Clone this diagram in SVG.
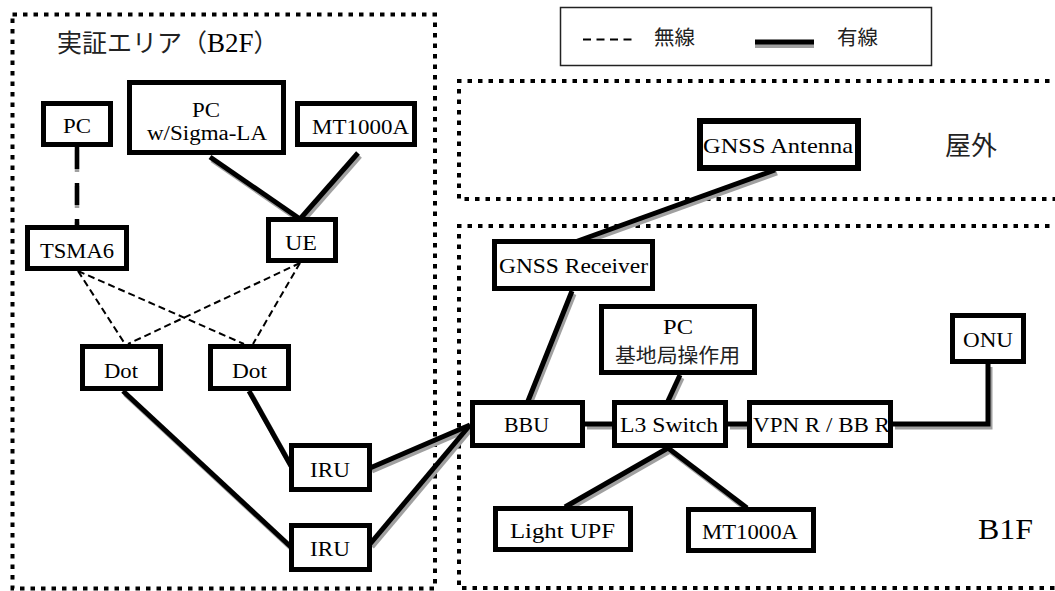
<svg xmlns="http://www.w3.org/2000/svg" width="1055" height="591" viewBox="0 0 1055 591">
  <style>
    .area { fill: none; stroke: #000; stroke-width: 4; stroke-dasharray: 4.5 6; }
    .box { fill: #fff; stroke: #000; stroke-width: 5; }
    .lbl { font-family: "Liberation Serif", serif; font-size: 22px; fill: #000; text-anchor: middle; }
    .jp { font-family: "Noto Sans CJK JP", sans-serif; fill: #222; }
    .wire { fill: none; stroke: #000; stroke-width: 5; stroke-linejoin: miter; }
    .shadow { fill: none; stroke: #a0a0a0; stroke-width: 5; }
    .radio { fill: none; stroke: #000; stroke-width: 2; stroke-dasharray: 7 4; }
  </style>
  <defs>
    <!-- wired links, reused for the gray drop shadow and the black line -->
    <g id="wired">
      <path d="M210 157 L300 219"/>
      <path d="M358 153 L300 219"/>
      <path d="M123 391 L291 547"/>
      <path d="M249 391 L291 466"/>
      <path d="M370 468 L470 425"/>
      <path d="M370 544 L470 425"/>
      <path d="M775 170 L575 242"/>
      <path d="M572 291 L528 401"/>
      <path d="M585 424 H612"/>
      <path d="M728 424 H747"/>
      <path d="M680 375 L668 401"/>
      <path d="M893 424 H988 V364"/>
      <path d="M668 448 L565 507"/>
      <path d="M668 448 L747 508"/>
    </g>
  </defs>

  <rect width="1055" height="591" fill="#fff"/>

  <!-- areas -->
  <g id="areas">
    <rect class="area" x="12.5" y="14.5" width="422.5" height="574"/>
    <path class="area" d="M1060 81 H459 V199 H1060"/>
    <path class="area" d="M1060 226 H459 V588 H1060"/>
    <text class="jp" x="57" y="52" font-size="25">実証エリア（<tspan font-family="Liberation Serif, serif" font-size="27" fill="#000">B2F</tspan>）</text>
    <text class="jp" x="945" y="155" font-size="26">屋外</text>
    <text class="lbl" x="1005.5" y="539" textLength="55" lengthAdjust="spacingAndGlyphs" style="font-size:30px">B1F</text>
  </g>

  <!-- legend -->
  <g id="legend">
    <rect x="560.5" y="7.5" width="371" height="58" fill="#fff" stroke="#222" stroke-width="1.5"/>
    <line x1="583" y1="39.5" x2="633" y2="39.5" stroke="#000" stroke-width="2" stroke-dasharray="8 5.5"/>
    <text class="jp" x="654" y="45" font-size="20.5">無線</text>
    <line x1="755" y1="46" x2="814" y2="46" stroke="#a0a0a0" stroke-width="4"/>
    <line x1="755" y1="42" x2="814" y2="42" stroke="#000" stroke-width="5"/>
    <text class="jp" x="837" y="45" font-size="20.5">有線</text>
  </g>

  <!-- connectors -->
  <g id="connectors">
    <use href="#wired" class="shadow" transform="translate(2 3)"/>
    <use href="#wired" class="wire"/>
    <line x1="77" y1="150" x2="77" y2="228" stroke="#a0a0a0" stroke-width="4.5" stroke-dasharray="22 14"/>
    <line x1="77" y1="147" x2="77" y2="225" stroke="#000" stroke-width="4.5" stroke-dasharray="22 14"/>
    <path class="radio" d="M78 271 L125 344"/>
    <path class="radio" d="M78 271 L244 344"/>
    <path class="radio" d="M300 263 L128 344"/>
    <path class="radio" d="M300 263 L253 344"/>
  </g>

  <!-- B2F nodes -->
  <g id="pc-left">
    <rect class="box" x="43.5" y="103.5" width="67" height="41"/>
    <text class="lbl" x="77" y="133" textLength="28" lengthAdjust="spacingAndGlyphs">PC</text>
  </g>
  <g id="pc-sigma">
    <rect class="box" x="129.5" y="82.5" width="154" height="70"/>
    <text class="lbl" x="206" y="117" textLength="28" lengthAdjust="spacingAndGlyphs" style="font-size:20px">PC</text>
    <text class="lbl" x="207" y="140" textLength="120" lengthAdjust="spacingAndGlyphs" style="font-size:20px">w/Sigma-LA</text>
  </g>
  <g id="mt1000a-b2f">
    <rect class="box" x="297.5" y="103.5" width="117" height="41"/>
    <text class="lbl" x="360.5" y="134" textLength="97" lengthAdjust="spacingAndGlyphs">MT1000A</text>
  </g>
  <g id="tsma6">
    <rect class="box" x="27.5" y="227.5" width="99" height="41"/>
    <text class="lbl" x="77" y="258" textLength="74" lengthAdjust="spacingAndGlyphs">TSMA6</text>
  </g>
  <g id="ue">
    <rect class="box" x="268.5" y="219.5" width="67" height="41"/>
    <text class="lbl" x="301" y="250" textLength="32" lengthAdjust="spacingAndGlyphs">UE</text>
  </g>
  <g id="dot-1">
    <rect class="box" x="82.5" y="346.5" width="78" height="42"/>
    <text class="lbl" x="121" y="378" textLength="34" lengthAdjust="spacingAndGlyphs">Dot</text>
  </g>
  <g id="dot-2">
    <rect class="box" x="210.5" y="346.5" width="78" height="42"/>
    <text class="lbl" x="249.5" y="378" textLength="35" lengthAdjust="spacingAndGlyphs">Dot</text>
  </g>
  <g id="iru-1">
    <rect class="box" x="291.5" y="445.5" width="78" height="44"/>
    <text class="lbl" x="330" y="477" textLength="40" lengthAdjust="spacingAndGlyphs">IRU</text>
  </g>
  <g id="iru-2">
    <rect class="box" x="291.5" y="525.5" width="78" height="44"/>
    <text class="lbl" x="330" y="556" textLength="40" lengthAdjust="spacingAndGlyphs">IRU</text>
  </g>

  <!-- outdoor node -->
  <g id="gnss-antenna">
    <rect class="box" x="700" y="121" width="158" height="47" style="stroke-width:6"/>
    <text class="lbl" x="778" y="153" textLength="150" lengthAdjust="spacingAndGlyphs">GNSS Antenna</text>
  </g>

  <!-- B1F nodes -->
  <g id="gnss-receiver">
    <rect class="box" x="494.5" y="241.5" width="158" height="47"/>
    <text class="lbl" x="573.5" y="273" textLength="149" lengthAdjust="spacingAndGlyphs">GNSS Receiver</text>
  </g>
  <g id="pc-bs">
    <rect class="box" x="601.5" y="306.5" width="153" height="66"/>
    <text class="lbl" x="678" y="334" textLength="30" lengthAdjust="spacingAndGlyphs" style="font-size:20px">PC</text>
    <text class="jp" x="677.5" y="363" font-size="20" text-anchor="middle" textLength="125" lengthAdjust="spacingAndGlyphs">基地局操作用</text>
  </g>
  <g id="onu">
    <rect class="box" x="952.5" y="315.5" width="71" height="46"/>
    <text class="lbl" x="988" y="347" textLength="50" lengthAdjust="spacingAndGlyphs">ONU</text>
  </g>
  <g id="bbu">
    <rect class="box" x="472.5" y="402.5" width="110" height="43"/>
    <text class="lbl" x="526.5" y="432" textLength="45" lengthAdjust="spacingAndGlyphs">BBU</text>
  </g>
  <g id="l3-switch">
    <rect class="box" x="614.5" y="402.5" width="111" height="43"/>
    <text class="lbl" x="669" y="432" textLength="98" lengthAdjust="spacingAndGlyphs">L3 Switch</text>
  </g>
  <g id="vpn-router">
    <rect class="box" x="749.5" y="402.5" width="141" height="43"/>
    <text class="lbl" x="821.5" y="432" textLength="137" lengthAdjust="spacingAndGlyphs">VPN R / BB R</text>
  </g>
  <g id="light-upf">
    <rect class="box" x="495.5" y="508.5" width="135" height="41"/>
    <text class="lbl" x="562.5" y="538" textLength="105" lengthAdjust="spacingAndGlyphs">Light UPF</text>
  </g>
  <g id="mt1000a-b1f">
    <rect class="box" x="688.5" y="509.5" width="125" height="41"/>
    <text class="lbl" x="750" y="539" textLength="96" lengthAdjust="spacingAndGlyphs">MT1000A</text>
  </g>
</svg>
